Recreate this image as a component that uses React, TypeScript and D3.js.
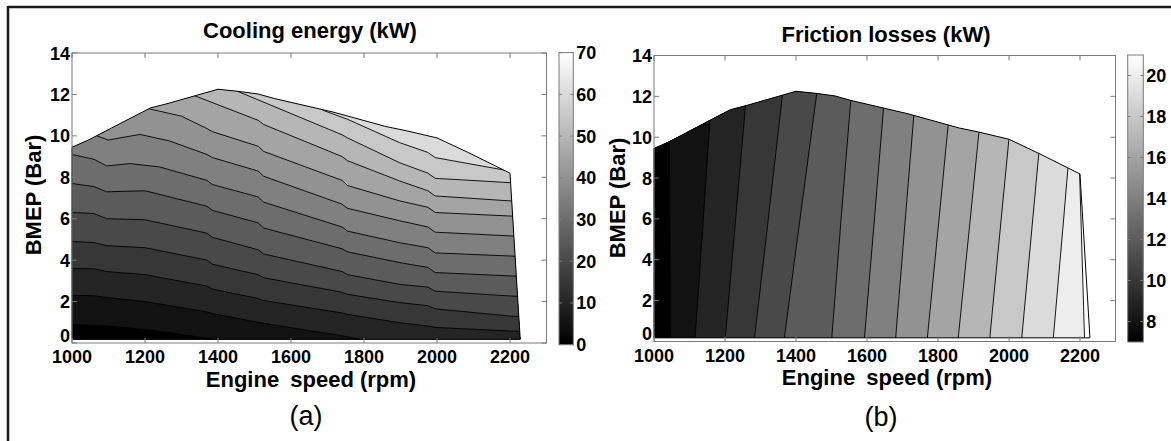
import React from 'react';
import * as d3 from 'd3';

type Pt = [number, number];

const speedTicks = [1000, 1200, 1400, 1600, 1800, 2000, 2200];
const bmepTicks = [0, 2, 4, 6, 8, 10, 12, 14];
const coolingBarTicks = [0, 10, 20, 30, 40, 50, 60, 70];
const frictionBarTicks = [8, 10, 12, 14, 16, 18, 20];

// operating envelope of the engine map: [rpm, bmep]
const envelope: Pt[] = [
  [1000, 0.18], [1000, 9.45], [1045, 9.8], [1160, 10.85], [1215, 11.35], [1260, 11.55],
  [1340, 11.95], [1400, 12.25], [1455, 12.15], [1510, 12.02], [1555, 11.8], [1715, 11.15],
  [1860, 10.45], [1915, 10.25], [2000, 9.9], [2085, 9.2], [2200, 8.2], [2228, 0.18],
];

// Cooling energy contour levels (kW) and their lines [rpm, bmep]
const coolingMin = 0;
const coolingLevels = [5, 10, 15, 20, 25, 30, 35, 40, 45, 50, 55, 60];
const coolingLines: Pt[][] = [
  [[1000, 0.9], [1100, 0.82], [1200, 0.65], [1300, 0.42], [1378, 0.2], [1460, -0.05], [1480, -0.4]],
  [[1000, 2.3], [1060, 2.28], [1095, 2.2], [1200, 2.0], [1370, 1.5], [1385, 1.42], [1510, 1.0], [1525, 0.95], [1740, 0.35], [1755, 0.3], [1840, 0], [1860, -0.4]],
  [[1000, 3.6], [1060, 3.58], [1095, 3.45], [1200, 3.3], [1370, 2.75], [1385, 2.6], [1510, 2.15], [1525, 2.05], [1740, 1.45], [1755, 1.38], [1898, 0.98], [1975, 0.82], [1995, 0.75], [2200, 0.58], [2260, 0.55]],
  [[1000, 4.9], [1060, 4.85], [1095, 4.7], [1200, 4.6], [1370, 4.0], [1385, 3.8], [1510, 3.3], [1525, 3.15], [1740, 2.45], [1755, 2.35], [1898, 1.95], [1975, 1.8], [1995, 1.65], [2200, 1.3], [2260, 1.25]],
  [[1000, 6.3], [1060, 6.25], [1095, 6.0], [1200, 5.95], [1370, 5.3], [1385, 5.1], [1510, 4.5], [1525, 4.3], [1740, 3.45], [1755, 3.3], [1898, 2.83], [1975, 2.7], [1995, 2.5], [2200, 2.27], [2260, 2.22]],
  [[1000, 7.7], [1060, 7.55], [1095, 7.3], [1200, 7.35], [1370, 6.6], [1385, 6.4], [1510, 5.8], [1525, 5.55], [1740, 4.55], [1755, 4.4], [1898, 3.88], [1975, 3.65], [1995, 3.4], [2200, 3.24], [2260, 3.2]],
  [[1000, 9.1], [1060, 8.87], [1095, 8.55], [1160, 8.66], [1240, 8.5], [1370, 7.85], [1385, 7.65], [1510, 7.05], [1525, 6.8], [1740, 5.6], [1755, 5.4], [1898, 4.84], [1975, 4.6], [1995, 4.35], [2200, 4.2], [2260, 4.15]],
  [[1040, 10.25], [1068, 10.0], [1099, 9.8], [1186, 10.07], [1268, 9.75], [1370, 9.1], [1385, 8.95], [1510, 8.3], [1525, 8.05], [1740, 6.7], [1755, 6.5], [1898, 5.9], [1975, 5.6], [1995, 5.35], [2200, 5.17], [2260, 5.12]],
  [[1180, 11.55], [1205, 11.33], [1300, 10.95], [1370, 10.35], [1385, 10.2], [1510, 9.5], [1525, 9.25], [1740, 7.85], [1755, 7.6], [1898, 6.86], [1975, 6.55], [1995, 6.3], [2200, 6.13], [2260, 6.1]],
  [[1310, 12.15], [1337, 11.93], [1400, 11.5], [1510, 10.75], [1525, 10.55], [1740, 9.0], [1755, 8.8], [1898, 7.82], [1975, 7.35], [1995, 7.1], [2200, 6.86], [2260, 6.83]],
  [[1430, 12.35], [1451, 12.17], [1515, 11.7], [1740, 10.05], [1755, 9.9], [1898, 8.7], [1975, 8.2], [1995, 7.95], [2200, 7.74], [2260, 7.7]],
  [[1665, 11.45], [1693, 11.2], [1755, 10.8], [1898, 9.67], [1975, 9.2], [1995, 8.95], [2200, 8.3], [2260, 8.28]],
];

// Friction losses contour levels (kW) and their lines [bmep, rpm]
const frictionMin = 7;
const frictionLevels = [8, 9, 10, 11, 12, 13, 14, 15, 16, 17, 18, 19, 20, 21];
const frictionLines: Pt[][] = [
  [[0, 1047], [13, 1042]],
  [[0, 1115], [6, 1139], [13, 1166]],
  [[0, 1200], [6, 1230], [13, 1265]],
  [[0, 1282], [6, 1322], [13, 1368]],
  [[0, 1366], [4, 1396], [13, 1465]],
  [[0, 1500], [6, 1527], [13, 1560]],
  [[0, 1592], [6, 1621], [13, 1654]],
  [[0, 1680], [6, 1708], [13, 1741]],
  [[0, 1769], [6, 1803], [13, 1842]],
  [[0, 1856], [6, 1891], [13, 1931]],
  [[0, 1945], [6, 1978], [13, 2017]],
  [[0, 2035], [6, 2067], [13, 2104]],
  [[0, 2124], [6, 2154], [13, 2188]],
  [[0, 2213], [8.2, 2199], [13, 2190]],
];

const FONT = "'Liberation Sans', Arial, Helvetica, sans-serif";
const TICK_FS = 18;

type Geo = { x0: number; x1: number; y0: number; y1: number; cbx: number; cbw: number; cby0: number; cby1: number };

const geoA: Geo = { x0: 72, x1: 546.5, y0: 53, y1: 343, cbx: 559, cbw: 14.3, cby0: 52.6, cby1: 344.7 };
const geoB: Geo = { x0: 654, x1: 1115.5, y0: 55.5, y1: 341.5, cbx: 1127.7, cbw: 15.6, cby0: 55, cby1: 342 };

function Axes({ geo, xs, ys }: { geo: Geo; xs: d3.ScaleLinear<number, number>; ys: d3.ScaleLinear<number, number> }) {
  const tc = '#7a7a7a';
  const tl = 5;
  return (
    <g>
      <rect x={geo.x0} y={geo.y0} width={geo.x1 - geo.x0} height={geo.y1 - geo.y0} fill="none" stroke={tc} strokeWidth={1} />
      {speedTicks.map((t) => (
        <g key={'x' + t}>
          <line x1={xs(t)} x2={xs(t)} y1={geo.y1} y2={geo.y1 - tl} stroke={tc} />
          <line x1={xs(t)} x2={xs(t)} y1={geo.y0} y2={geo.y0 + tl} stroke={tc} />
          <text x={xs(t)} y={geo.y1 + 20} textAnchor="middle" fontFamily={FONT} fontWeight="bold" fontSize={TICK_FS}>{t}</text>
        </g>
      ))}
      {bmepTicks.map((t) => (
        <g key={'y' + t}>
          <line x1={geo.x0} x2={geo.x0 + tl} y1={ys(t)} y2={ys(t)} stroke={tc} />
          <line x1={geo.x1} x2={geo.x1 - tl} y1={ys(t)} y2={ys(t)} stroke={tc} />
          <text x={geo.x0 - 2} y={ys(t) + (t === 0 ? -1.5 : 6.5)} textAnchor="end" fontFamily={FONT} fontWeight="bold" fontSize={TICK_FS}>{t}</text>
        </g>
      ))}
    </g>
  );
}

function Colorbar({ geo, domain, ticks, id }: { geo: Geo; domain: [number, number]; ticks: number[]; id: string }) {
  const cs = d3.scaleLinear().domain(domain).range([geo.cby1, geo.cby0]);
  return (
    <g>
      <defs>
        <linearGradient id={id} x1="0" y1="1" x2="0" y2="0">
          <stop offset="0" stopColor="#000" />
          <stop offset="1" stopColor="#fff" />
        </linearGradient>
      </defs>
      <rect x={geo.cbx} y={geo.cby0} width={geo.cbw} height={geo.cby1 - geo.cby0} fill={`url(#${id})`} stroke="#7a7a7a" strokeWidth={1} />
      {ticks.map((t) => (
        <g key={t}>
          <line x1={geo.cbx + geo.cbw} x2={geo.cbx + geo.cbw - 3} y1={cs(t)} y2={cs(t)} stroke="#7a7a7a" />
          <line x1={geo.cbx} x2={geo.cbx + 3} y1={cs(t)} y2={cs(t)} stroke="#7a7a7a" />
          <text x={geo.cbx + geo.cbw + 3} y={cs(t) + 6.5} fontFamily={FONT} fontWeight="bold" fontSize={TICK_FS}>{t}</text>
        </g>
      ))}
    </g>
  );
}

export default function App() {
  const xsA = d3.scaleLinear().domain([1000, 2300]).range([geoA.x0, geoA.x1]);
  const ysA = d3.scaleLinear().domain([0, 14]).range([geoA.y1, geoA.y0]);
  const xsB = d3.scaleLinear().domain([1000, 2300]).range([geoB.x0, geoB.x1]);
  const ysB = d3.scaleLinear().domain([0, 14]).range([geoB.y1, geoB.y0]);

  const colA = d3.scaleLinear<string>().domain([0, 70]).range(['#000000', '#ffffff']);
  const colB = d3.scaleLinear<string>().domain([7, 21]).range(['#000000', '#ffffff']).clamp(true);

  const lineA = d3.line<Pt>().x((d) => xsA(d[0])).y((d) => ysA(d[1]));
  const lineB = d3.line<Pt>().x((d) => xsB(d[0])).y((d) => ysB(d[1]));

  const bandsA = coolingLines
    .map((ln, i) => {
      const last = ln[ln.length - 1];
      const poly: Pt[] = [[980, -2], [980, 16], [ln[0][0], 16], ...ln, [2320, last[1]], [2320, -2]];
      return { d: lineA(poly) + 'Z', fill: colA(i === 0 ? coolingMin : coolingLevels[i - 1]), key: i };
    })
    .reverse();

  const bandsB = frictionLines
    .map((ln, i) => {
      const pts: Pt[] = ln.map(([b, r]) => [r, b] as Pt);
      const first = pts[0];
      const last = pts[pts.length - 1];
      const poly: Pt[] = [[980, -2], [first[0], -2], ...pts, [last[0], 16], [980, 16]];
      return { d: lineB(poly) + 'Z', fill: colB(i === 0 ? frictionMin : frictionLevels[i - 1]), key: i };
    })
    .reverse();

  const envA = lineA(envelope) + 'Z';
  const envB = lineB(envelope) + 'Z';

  return (
    <svg width={1171} height={441} style={{ position: 'absolute', left: 0, top: 0, background: '#fff' }}>
      <rect x={0} y={0} width={1171} height={441} fill="#fff" />
      <defs>
        <clipPath id="clipA"><path d={envA} /></clipPath>
        <clipPath id="clipB"><path d={envB} /></clipPath>
      </defs>
      {/* frame */}
      <line x1={8} x2={1171} y1={7} y2={7} stroke="#1a1a1a" strokeWidth={2.5} />
      <line x1={8} x2={8} y1={6} y2={441} stroke="#1a1a1a" strokeWidth={2.5} />

      {/* Panel A */}
      <g clipPath="url(#clipA)">
        <path d={envA} fill={colA(coolingLevels[coolingLevels.length - 1])} />
        {bandsA.map((b) => <path key={b.key} d={b.d} fill={b.fill} />)}
        {coolingLines.map((ln, i) => <path key={i} d={lineA(ln) || ''} fill="none" stroke="#000" strokeWidth={0.9} />)}
      </g>
      <path d={envA} fill="none" stroke="#000" strokeWidth={1} />
      <Axes geo={geoA} xs={xsA} ys={ysA} />
      <Colorbar geo={geoA} domain={[0, 70]} ticks={coolingBarTicks} id="gradA" />
      <text x={310} y={37.5} textAnchor="middle" fontFamily={FONT} fontWeight="bold" fontSize={22}>Cooling energy (kW)</text>
      <text x={311} y={386.5} textAnchor="middle" fontFamily={FONT} fontWeight="bold" fontSize={22}>Engine<tspan dx={5}> speed (rpm)</tspan></text>
      <text transform="translate(41,195) rotate(-90)" textAnchor="middle" fontFamily={FONT} fontWeight="bold" fontSize={22}>BMEP (Bar)</text>
      <text x={306} y={425} textAnchor="middle" fontFamily={FONT} fontSize={27}>(a)</text>

      {/* Panel B */}
      <g clipPath="url(#clipB)">
        <path d={envB} fill={colB(frictionLevels[frictionLevels.length - 1])} />
        {bandsB.map((b) => <path key={b.key} d={b.d} fill={b.fill} />)}
        {frictionLines.map((ln, i) => (
          <path key={i} d={lineB(ln.map(([b, r]) => [r, b] as Pt)) || ''} fill="none" stroke="#000" strokeWidth={0.9} />
        ))}
      </g>
      <path d={envB} fill="none" stroke="#000" strokeWidth={1} />
      <Axes geo={geoB} xs={xsB} ys={ysB} />
      <Colorbar geo={geoB} domain={[7, 21]} ticks={frictionBarTicks} id="gradB" />
      <text x={886} y={41.5} textAnchor="middle" fontFamily={FONT} fontWeight="bold" fontSize={22}>Friction losses (kW)</text>
      <text x={887} y={385} textAnchor="middle" fontFamily={FONT} fontWeight="bold" fontSize={22}>Engine<tspan dx={5}> speed (rpm)</tspan></text>
      <text transform="translate(625,198) rotate(-90)" textAnchor="middle" fontFamily={FONT} fontWeight="bold" fontSize={22}>BMEP (Bar)</text>
      <text x={881} y={426} textAnchor="middle" fontFamily={FONT} fontSize={27}>(b)</text>
    </svg>
  );
}
